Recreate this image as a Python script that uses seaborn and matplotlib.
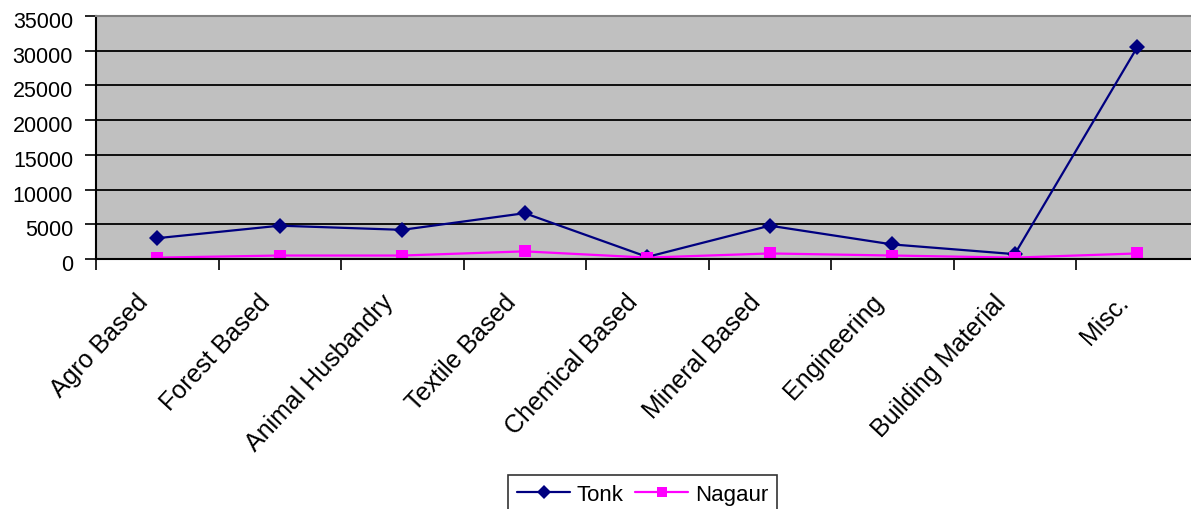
import matplotlib
matplotlib.use("Agg")
import matplotlib.pyplot as plt
import matplotlib.transforms as mtransforms
import seaborn as sns
import pandas as pd

categories = ["Agro Based", "Forest Based", "Animal Husbandry", "Textile Based",
              "Chemical Based", "Mineral Based", "Engineering", "Building Material", "Misc."]
tonk = [3000, 4800, 4200, 6600, 300, 4800, 2100, 700, 30500]
nagaur = [200, 500, 500, 1100, 200, 800, 500, 200, 800]
y_ticks = [0, 5000, 10000, 15000, 20000, 25000, 30000, 35000]

df = pd.DataFrame({
    "category": categories * 2,
    "value": tonk + nagaur,
    "district": ["Tonk"] * len(categories) + ["Nagaur"] * len(categories),
})

sns.set_theme(style="white")
plt.rcParams["font.family"] = ["Liberation Sans", "DejaVu Sans"]
plt.rcParams["text.color"] = "black"
plt.rcParams["xtick.color"] = "black"
plt.rcParams["ytick.color"] = "black"

W, H = 1191, 510
fig = plt.figure(figsize=(W / 100, H / 100), dpi=100)
ax = fig.add_axes([96 / W, 1 - 260 / H, (9 * 122.5) / W, (260 - 17) / H])
ax.set_facecolor("#C0C0C0")

palette = {"Tonk": "#000080", "Nagaur": "#FF00FF"}
markers = {"Tonk": "D", "Nagaur": "s"}
sns.lineplot(data=df, x="category", y="value", hue="district", style="district",
             palette=palette, markers=markers, dashes=False, sort=False,
             markersize=8, linewidth=1.6, markeredgewidth=0, ax=ax, legend=False)

ax.set_xlim(-0.5, len(categories) - 0.5)
ax.set_ylim(0, 35000)
ax.set_yticks(y_ticks)
ax.set_yticklabels([str(v) for v in y_ticks], fontsize=15.5)
ax.set_xticks([i - 0.5 for i in range(len(categories) + 1)], minor=False)
ax.set_xticklabels([])
ax.set_xticks(range(len(categories)), minor=True)
ax.set_xticklabels(categories, minor=True, rotation=47, ha="right",
                   rotation_mode="anchor", fontsize=18)
ax.tick_params(axis="x", which="minor", length=0, pad=22)
ax.tick_params(axis="x", which="major", direction="out", length=8, width=1.2,
               color="black", bottom=True)
ax.tick_params(axis="y", direction="out", length=8, width=1.2, color="black",
               left=True, pad=8.5)
ax.set_xlabel("")
ax.set_ylabel("")

# nudge category labels left and value labels slightly down
x_shift = mtransforms.ScaledTranslation(-22 / 100, 0, fig.dpi_scale_trans)
for lbl in ax.get_xticklabels(minor=True):
    lbl.set_transform(lbl.get_transform() + x_shift)
y_shift = mtransforms.ScaledTranslation(0, -3 / 100, fig.dpi_scale_trans)
for lbl in ax.get_yticklabels():
    lbl.set_transform(lbl.get_transform() + y_shift)

for y in y_ticks[1:-1]:
    ax.axhline(y, color="black", linewidth=1.3, zorder=1)

for side in ["left", "bottom"]:
    ax.spines[side].set_color("black")
    ax.spines[side].set_linewidth(1.5)
ax.spines["top"].set_color("#808080")
ax.spines["top"].set_linewidth(1.5)
ax.spines["right"].set_visible(False)

handles = [
    plt.Line2D([], [], color="#000080", marker="D", markersize=7.5, linewidth=1.6,
               markeredgewidth=0, label="Tonk"),
    plt.Line2D([], [], color="#FF00FF", marker="s", markersize=7.5, linewidth=1.6,
               markeredgewidth=0, label="Nagaur"),
]
leg = fig.legend(handles=handles, loc="upper left", bbox_to_anchor=(508 / W, 1 - 476 / H),
                 ncol=2, fontsize=16, frameon=True, fancybox=False, edgecolor="black",
                 handlelength=2.4, handletextpad=0.3, columnspacing=0.5,
                 borderpad=0.4, borderaxespad=0)
leg.get_frame().set_linewidth(1.2)

fig.savefig("out.png", dpi=100, facecolor="white")
